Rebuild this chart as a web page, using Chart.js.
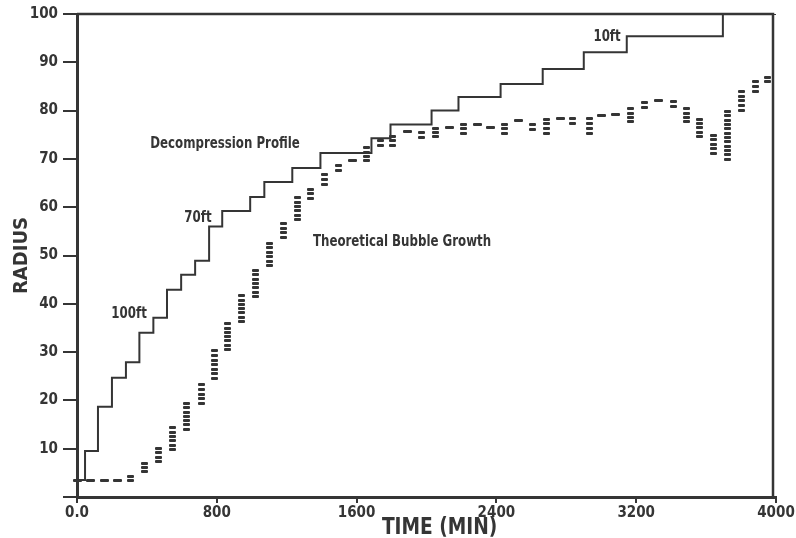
<!DOCTYPE html>
<html><head><meta charset="utf-8">
<script src="https://cdn.jsdelivr.net/npm/chart.js@4.4.1/dist/chart.umd.min.js"></script>
<style>html,body{margin:0;padding:0;background:#fff;overflow:hidden}canvas{display:block}</style>
</head><body>
<canvas id="c" width="796" height="538"></canvas>
<script>
// Decompression profile (step line): value holds from each time until the next
const profileTimes  = [0, 46, 120, 200, 280, 357, 437, 515, 596, 676, 756, 831, 991, 1072, 1232, 1393, 1685, 1794, 2029, 2183, 2424, 2665, 2900, 3146, 3696, 4000];
const profileRadius = [3.5, 9.5, 18.7, 24.7, 27.9, 34.0, 37.1, 42.9, 46.0, 48.9, 56.0, 59.2, 62.1, 65.2, 68.1, 71.2, 74.3, 77.1, 80.0, 82.8, 85.5, 88.6, 92.1, 95.4, 100, 100];

// Theoretical bubble growth: columns of dashes (low..high radius at each time)
const bubbleTimes = [0, 80, 155, 229, 309, 389, 469, 549, 629, 710, 784, 864, 944, 1024, 1099, 1179, 1259, 1339, 1419, 1499, 1574, 1654, 1734, 1808, 1894, 1974, 2054, 2134, 2209, 2289, 2369, 2449, 2524, 2609, 2684, 2764, 2838, 2930, 3004, 3084, 3165, 3245, 3325, 3411, 3485, 3565, 3640, 3725, 3805, 3880, 3954];
const bubbleLow  = [3.4, 3.4, 3.4, 3.4, 3.1, 5.0, 7.0, 9.7, 13.9, 19.0, 24.2, 30.4, 36.2, 41.4, 47.6, 53.4, 57.3, 61.5, 64.4, 67.5, 69.6, 69.4, 72.5, 72.5, 75.6, 74.3, 74.3, 76.4, 75.0, 77.2, 76.2, 75.0, 77.4, 75.8, 75.0, 78.3, 77.0, 75.0, 78.5, 78.7, 77.4, 80.5, 82.0, 80.7, 77.4, 74.5, 70.8, 69.6, 79.7, 83.6, 85.7];
const bubbleHigh = [3.4, 3.4, 3.4, 3.4, 4.6, 7.2, 10.4, 14.5, 19.5, 23.6, 30.6, 36.0, 41.8, 47.0, 52.8, 56.9, 62.1, 64.0, 67.1, 68.7, 69.6, 72.5, 74.1, 75.0, 75.6, 75.6, 76.6, 76.4, 77.4, 77.2, 77.0, 77.4, 78.3, 77.4, 78.5, 78.3, 78.7, 78.7, 79.5, 79.5, 80.7, 81.8, 82.0, 82.0, 80.7, 78.3, 75.2, 80.1, 84.3, 86.3, 87.2];

const xTickValues = [0, 800, 1600, 2400, 3200, 4000];
const xTickLabels = ['0.0', '800', '1600', '2400', '3200', '4000'];
const yTickValues = [0, 10, 20, 30, 40, 50, 60, 70, 80, 90, 100];
const yTickLabels = ['', '10', '20', '30', '40', '50', '60', '70', '80', '90', '100'];

const xAxisTitle = 'TIME (MIN)';
const yAxisTitle = 'RADIUS';

const noteTexts  = ['Decompression Profile', 'Theoretical Bubble Growth', '70ft', '100ft', '10ft'];
const noteTimes  = [847, 1860, 692, 298, 3033];
const noteRadius = [73.2, 52.9, 57.7, 37.9, 95.2];

const INK = '#353535';
const FONT = '"DejaVu Sans Condensed", "Liberation Sans Narrow", sans-serif';

const dashPlugin = {
  id: 'dashColumns',
  afterDatasetsDraw(chart) {
    const meta = chart.getDatasetMeta(1);
    const ctx = chart.ctx;
    ctx.save();
    ctx.fillStyle = INK;
    const dw = 7, dh = 3, period = 4.3;
    meta.data.forEach(el => {
      const p = el.getProps(['x', 'y', 'base'], true);
      const top = Math.min(p.y, p.base), bot = Math.max(p.y, p.base);
      const span = bot - top;
      const x0 = Math.round(p.x - dw / 2);
      const n = Math.max(1, Math.round((span - dh) / period) + 1);
      if (n === 1) {
        const cy = Math.round((top + bot) / 2 - dh / 2);
        ctx.beginPath();
        ctx.roundRect(x0 - 1, cy, dw + 2, dh, 1);
        ctx.fill();
        return;
      }
      const step = Math.max(period, (span - dh) / (n - 1));
      const mid = (top + bot) / 2;
      const start = mid - ((n - 1) * step) / 2 - dh / 2;
      for (let i = 0; i < n; i++) {
        const yy = Math.round(start + i * step);
        ctx.beginPath();
        ctx.roundRect(x0, yy, dw, dh, 1);
        ctx.fill();
      }
    });
    ctx.restore();
  }
};

const framePlugin = {
  id: 'frame',
  afterDraw(chart) {
    const {ctx, chartArea: a} = chart;
    ctx.save();
    ctx.strokeStyle = INK;
    ctx.lineWidth = 2.5;
    ctx.beginPath();
    ctx.moveTo(a.left, a.top);
    ctx.lineTo(a.right - 3, a.top);
    ctx.lineTo(a.right - 3, a.bottom);
    ctx.stroke();
    const xs = chart.scales.x, ys = chart.scales.y;
    ctx.fillStyle = INK;
    ctx.textAlign = 'center';
    ctx.textBaseline = 'middle';
    // annotations (condensed bold lettering)
    ctx.font = 'bold 16px ' + FONT;
    noteTexts.forEach((t, i) => {
      ctx.save();
      ctx.translate(xs.getPixelForValue(noteTimes[i]), ys.getPixelForValue(noteRadius[i]));
      ctx.scale(0.82, 1);
      ctx.fillText(t, 0, 0);
      ctx.restore();
    });
    // x axis title
    ctx.save();
    ctx.font = 'bold 23px ' + FONT;
    ctx.translate(xs.getPixelForValue(2075), xs.bottom - 10);
    ctx.scale(0.9, 1);
    ctx.fillText(xAxisTitle, 0, 0);
    ctx.restore();
    ctx.restore();
  }
};

new Chart(document.getElementById('c'), {
  type: 'bar',
  data: {
    datasets: [
      {
        type: 'line',
        label: 'Decompression Profile',
        data: profileTimes.map((t, i) => ({x: t, y: profileRadius[i]})),
        stepped: true,
        borderColor: INK,
        borderWidth: 2,
        pointRadius: 0,
        fill: false,
        order: 1
      },
      {
        type: 'bar',
        label: 'Theoretical Bubble Growth',
        data: bubbleTimes.map((t, i) => ({x: t, y: [bubbleLow[i], bubbleHigh[i]]})),
        backgroundColor: 'rgba(0,0,0,0)',
        borderWidth: 0,
        barThickness: 7,
        order: 2
      }
    ]
  },
  options: {
    responsive: false,
    animation: false,
    devicePixelRatio: 1,
    layout: {padding: {left: 0, top: 14, right: 20, bottom: 0}},
    plugins: {legend: {display: false}, tooltip: {enabled: false}},
    scales: {
      x: {
        type: 'linear',
        min: 0, max: 4000,
        offset: false,
        afterFit(s) { s.height = 41; },
        afterBuildTicks(s) { s.ticks = xTickValues.map(v => ({value: v})); },
        ticks: {
          autoSkip: false, maxRotation: 0, padding: 1,
          color: INK,
          font: {family: FONT, size: 15, weight: 'bold'},
          callback: (v, i) => xTickLabels[i]
        },
        grid: {display: true, drawOnChartArea: false, drawTicks: true, tickLength: 6, color: INK, lineWidth: 2, offset: false},
        border: {display: true, color: INK, width: 3},
        title: {display: false, text: xAxisTitle}
      },
      y: {
        type: 'linear',
        min: 0, max: 100,
        afterFit(s) { s.width = 77; },
        afterBuildTicks(s) { s.ticks = yTickValues.map(v => ({value: v})); },
        ticks: {
          autoSkip: false, padding: 5,
          color: INK,
          font: {family: FONT, size: 15, weight: 'bold'},
          callback: (v, i) => yTickLabels[i]
        },
        grid: {display: true, drawOnChartArea: false, drawTicks: true, tickLength: 14, color: INK, lineWidth: 2},
        border: {display: true, color: INK, width: 3},
        title: {
          display: true, text: yAxisTitle, color: INK,
          font: {family: FONT, size: 20, weight: 'bold'},
          padding: {top: 10, bottom: 0}
        }
      }
    }
  },
  plugins: [dashPlugin, framePlugin]
});
</script>
</body></html>
